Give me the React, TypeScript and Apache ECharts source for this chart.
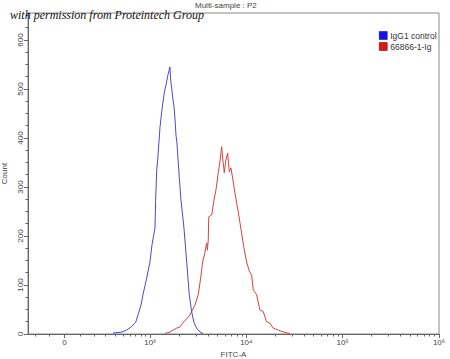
import React, { useEffect, useRef } from "react";
import * as echarts from "echarts";

// Histogram points: x in display units (decades, biexponential below 10^3), y = event count
const blueX = [2.616, 2.668, 2.71, 2.758, 2.803, 2.852, 2.876, 2.907, 2.927, 2.966, 3.0, 3.021, 3.052, 3.059, 3.07, 3.08, 3.104, 3.124, 3.148, 3.166, 3.187, 3.207, 3.215, 3.231, 3.239, 3.249, 3.254, 3.259, 3.27, 3.28, 3.284, 3.29, 3.304, 3.322, 3.335, 3.353, 3.381, 3.408, 3.433, 3.456, 3.484, 3.519, 3.55];
const blueCount = [2, 3, 4, 8, 14, 24, 39, 59, 80, 114, 147, 182, 216, 273, 335, 355, 422, 457, 492, 508, 529, 545, 518, 492, 478, 465, 453, 441, 406, 390, 376, 361, 320, 273, 249, 216, 147, 80, 45, 24, 12, 4, 1];

const redX = [3.156, 3.207, 3.277, 3.311, 3.345, 3.373, 3.415, 3.467, 3.501, 3.526, 3.547, 3.571, 3.588, 3.596, 3.605, 3.61, 3.628, 3.643, 3.664, 3.685, 3.709, 3.726, 3.744, 3.757, 3.771, 3.788, 3.806, 3.823, 3.84, 3.858, 3.882, 3.923, 3.951, 3.975, 4.003, 4.03, 4.055, 4.072, 4.107, 4.141, 4.175, 4.211, 4.245, 4.279, 4.331, 4.4, 4.452];
const redCount = [1, 4, 12, 14, 24, 29, 39, 59, 80, 114, 147, 167, 186, 171, 192, 239, 241, 245, 273, 294, 329, 351, 382, 355, 329, 355, 369, 331, 339, 318, 288, 241, 206, 176, 147, 129, 120, 90, 80, 49, 46, 25, 22, 12, 8, 3, 1];

const seriesNames = ["IgG1 control", "66866-1-Ig"];

// Tick values in raw FITC-A units
const xMajorTicks = [0, 1000, 10000, 100000, 1000000];
const xMajorLabels = ["0", "10³", "10⁴", "10⁵", "10⁶"];
const xMinorTicks = [
  -200, -100, 100, 200, 300, 400, 500, 600, 700, 800, 900,
  2000, 3000, 4000, 5000, 6000, 7000, 8000, 9000,
  20000, 30000, 40000, 50000, 60000, 70000, 80000, 90000,
  200000, 300000, 400000, 500000, 600000, 700000, 800000, 900000,
];
const yMajorTicks = [0, 100, 200, 300, 400, 500, 600];
const yMinorTicks = [25, 50, 75, 125, 150, 175, 225, 250, 275, 325, 350, 375, 425, 450, 475, 525, 550, 575, 625, 650];

const X_MIN = 1.734;
const X_MAX = 6;
const Y_MAX = 655;

// biexponential-like display transform
const ZERO_POS = 2.113;
const LIN_W = 264;
function toDisplay(v: number): number {
  if (v >= 1000) return Math.log10(v);
  return ZERO_POS + (3 - ZERO_POS) * (Math.asinh(v / LIN_W) / Math.asinh(1000 / LIN_W));
}

const FONT = "Liberation Sans";

export default function App() {
  const ref = useRef<HTMLDivElement>(null);
  useEffect(() => {
    if (!ref.current) return;
    const chart = echarts.init(ref.current, undefined, { renderer: "svg" });
    const majorDisp = xMajorTicks.map(toDisplay);
    const minorDisp = xMinorTicks.map(toDisplay);
    const labelFor = (v: number) => {
      let best = 0;
      let bd = Infinity;
      majorDisp.forEach((d, i) => {
        const dd = Math.abs(d - v);
        if (dd < bd) {
          bd = dd;
          best = i;
        }
      });
      return xMajorLabels[best];
    };
    const axisColor = "#666";
    chart.setOption({
      animation: false,
      grid: {
        left: 28,
        right: 11,
        top: 13,
        bottom: 25,
        show: true,
        borderColor: "#888",
        borderWidth: 1,
        backgroundColor: "transparent",
        containLabel: false,
        outerBoundsMode: "none",
      },
      graphic: [
        {
          type: "text",
          left: 195,
          top: 1,
          style: { text: "Multi-sample : P2", font: `8px "${FONT}"`, fill: "#444" },
        },
        {
          type: "text",
          left: 10,
          top: 9,
          style: {
            text: "with permission from Proteintech Group",
            font: 'italic 12px "Liberation Serif"',
            fill: "#111",
          },
          z: 100,
        },
      ],
      legend: {
        orient: "vertical",
        left: 374,
        top: 26,
        itemWidth: 8,
        itemHeight: 8,
        itemGap: 2,
        icon: "rect",
        textStyle: { fontSize: 8.5, color: "#333", fontFamily: FONT, lineHeight: 8, padding: [0, 0, 0, -2] },
        data: [
          { name: seriesNames[0], itemStyle: { color: "#1414f0", borderColor: "#000050", borderWidth: 0.5 } },
          { name: seriesNames[1], itemStyle: { color: "#e01414", borderColor: "#500000", borderWidth: 0.5 } },
        ],
      },
      xAxis: [
        {
          type: "value",
          min: X_MIN,
          max: X_MAX,
          position: "bottom",
          axisLine: { show: true, onZero: false, lineStyle: { color: axisColor } },
          axisTick: { show: true, customValues: majorDisp, length: 4, lineStyle: { color: axisColor } },
          axisLabel: {
            customValues: majorDisp,
            formatter: (v: number) => labelFor(v),
            fontSize: 8,
            color: "#444",
            fontFamily: FONT,
            margin: 4,
          },
          splitLine: { show: false },
          name: "FITC-A",
          nameLocation: "middle",
          nameGap: 16,
          nameTextStyle: { fontSize: 8, color: "#444", fontFamily: FONT },
        },
        {
          type: "value",
          min: X_MIN,
          max: X_MAX,
          position: "bottom",
          axisLine: { show: false, onZero: false },
          axisTick: { show: true, customValues: minorDisp, length: 2.5, lineStyle: { color: axisColor } },
          axisLabel: { show: false },
          splitLine: { show: false },
        },
      ],
      yAxis: [
        {
          type: "value",
          min: 0,
          max: Y_MAX,
          position: "left",
          axisLine: { show: true, onZero: false, lineStyle: { color: axisColor } },
          axisTick: { show: true, customValues: yMajorTicks, length: 4, lineStyle: { color: axisColor } },
          axisLabel: {
            customValues: yMajorTicks,
            rotate: 90,
            fontSize: 8,
            color: "#444",
            fontFamily: FONT,
            margin: 4,
          },
          splitLine: { show: false },
          name: "Count",
          nameLocation: "middle",
          nameGap: 18,
          nameRotate: 90,
          nameTextStyle: { fontSize: 8, color: "#444", fontFamily: FONT },
        },
        {
          type: "value",
          min: 0,
          max: Y_MAX,
          position: "left",
          axisLine: { show: false, onZero: false },
          axisTick: { show: true, customValues: yMinorTicks, length: 2.5, lineStyle: { color: axisColor } },
          axisLabel: { show: false },
          splitLine: { show: false },
        },
      ],
      series: [
        {
          type: "line",
          name: seriesNames[0],
          xAxisIndex: 0,
          yAxisIndex: 0,
          data: blueX.map((x, i) => [x, blueCount[i]]),
          showSymbol: false,
          symbol: "none",
          lineStyle: { width: 1, color: "#4a4ac8" },
          itemStyle: { color: "#1414f0" },
        },
        {
          type: "line",
          name: seriesNames[1],
          xAxisIndex: 0,
          yAxisIndex: 0,
          data: redX.map((x, i) => [x, redCount[i]]),
          showSymbol: false,
          symbol: "none",
          lineStyle: { width: 1, color: "#d24444" },
          itemStyle: { color: "#e01414" },
        },
      ],
    });
    return () => chart.dispose();
  }, []);
  return <div ref={ref} style={{ position: "absolute", left: 0, top: 0, width: 450, height: 359 }} />;
}
